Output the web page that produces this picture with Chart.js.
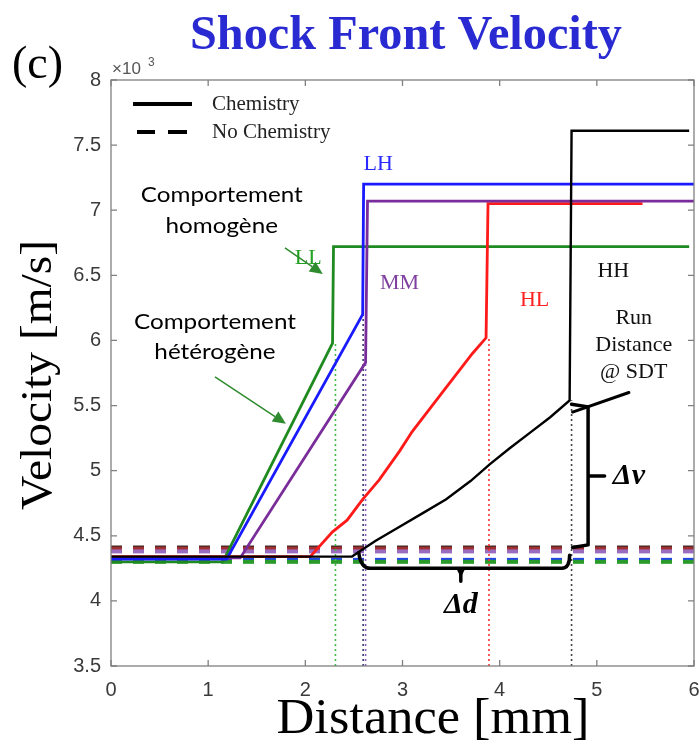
<!DOCTYPE html>
<html><head><meta charset="utf-8">
<script src="https://cdn.jsdelivr.net/npm/chart.js@4/dist/chart.umd.min.js"></script>
<style>html,body{margin:0;padding:0;background:#fff;overflow:hidden}canvas{display:block}</style>
</head><body>
<canvas id="c" width="699" height="744"></canvas>
<script>
// ---- axis ticks ----
const xTicks = [0, 1, 2, 3, 4, 5, 6];
const yTicks = [3.5, 4, 4.5, 5, 5.5, 6, 6.5, 7, 7.5, 8];

// ---- Chemistry (solid), velocity in 10^3 m/s vs distance in mm ----
const llX = [0, 1.15, 2.28, 2.29, 5.95];
const llY = [4.30, 4.30, 5.98, 6.72, 6.72];
const lhX = [0, 1.19, 2.59, 2.60, 6.0];
const lhY = [4.32, 4.32, 6.20, 7.20, 7.20];
const mmX = [0, 1.33, 2.62, 2.64, 6.0];
const mmY = [4.33, 4.33, 5.83, 7.07, 7.07];
const hlX = [0, 2.05, 2.28, 2.43, 2.59, 2.76, 2.97, 3.10, 3.45, 3.72, 3.86, 3.88, 5.47];
const hlY = [4.34, 4.34, 4.53, 4.62, 4.78, 4.93, 5.15, 5.30, 5.64, 5.90, 6.02, 7.05, 7.05];
const hhX = [0, 2.48, 2.58, 2.72, 2.97, 3.20, 3.45, 3.70, 3.90, 4.10, 4.31, 4.52, 4.72, 4.74, 5.95];
const hhY = [4.34, 4.34, 4.39, 4.46, 4.57, 4.67, 4.78, 4.92, 5.05, 5.17, 5.29, 5.41, 5.54, 7.61, 7.61];

// ---- No Chemistry (dashed, constant) ----
const noChemNames = ['LL', 'LH', 'MM', 'HL', 'HH'];
const noChemV = [4.30, 4.315, 4.38, 4.40, 4.41];
const noChemRange = [0, 6];

// ---- run distance markers (dotted verticals) ----
const sdtNames = ['LL', 'LH', 'MM', 'HL', 'HH'];
const sdtX = [2.31, 2.595, 2.62, 3.89, 4.74];
const sdtTop = [5.98, 6.20, 5.83, 6.02, 5.54];
const yMin = 3.5, yMax = 8;

const colSolid = { LL: '#1f8a1f', LH: '#1a1aff', MM: '#7a2d9a', HL: '#ff1a1a', HH: '#000000' };
const colDash = { LL: '#2a9a2a', LH: '#2046e8', MM: '#9a6cc0', HL: '#a03030', HH: 'rgba(50,15,15,0.9)' };
const colDot = { LL: '#44bb44', LH: '#3a3a70', MM: '#8a5cc0', HL: '#ff3030', HH: '#444444' };
const colLabel = { LL: '#22a022', LH: '#2a2aff', MM: '#8040a0', HL: '#ff2020', HH: '#111111' };

function pts(xs, ys) { return xs.map((x, i) => ({ x: x, y: ys[i] })); }

const datasets = [];
noChemNames.forEach((n, i) => {
  datasets.push({ label: n + ' no chem', data: pts(noChemRange, [noChemV[i], noChemV[i]]),
    borderColor: colDash[n], borderWidth: 4, borderDash: [11, 11], order: 10 + i });
});
sdtNames.forEach((n, i) => {
  datasets.push({ label: n + ' SDT', data: pts([sdtX[i], sdtX[i]], [yMin, sdtTop[i]]),
    borderColor: colDot[n], borderWidth: 1.6, borderDash: [2, 3], order: 5 });
});
const solid = { LL: [llX, llY], LH: [lhX, lhY], MM: [mmX, mmY], HL: [hlX, hlY], HH: [hhX, hhY] };
['LL', 'HL', 'MM', 'LH', 'HH'].forEach((n, i) => {
  datasets.push({ label: n, data: pts(solid[n][0], solid[n][1]), borderColor: colSolid[n],
    borderWidth: n === 'HH' ? 2.4 : 2.8, order: 4 - i });
});

// ---- annotations in data coordinates ----
const curveLabels = [
  { t: 'LL', x: 2.03, y: 6.63, c: colLabel.LL },
  { t: 'LH', x: 2.75, y: 7.35, c: colLabel.LH },
  { t: 'MM', x: 2.97, y: 6.44, c: colLabel.MM },
  { t: 'HL', x: 4.36, y: 6.31, c: colLabel.HL },
  { t: 'HH', x: 5.17, y: 6.53, c: colLabel.HH },
  { t: 'Run', x: 5.38, y: 6.17, c: '#111' },
  { t: 'Distance', x: 5.38, y: 5.96, c: '#111' },
  { t: '@ SDT', x: 5.38, y: 5.755, c: '#111' }
];
const noteLabels = [
  { t: 'Comportement', x: 1.14, y: 7.12 },
  { t: 'homogène', x: 1.14, y: 6.88 },
  { t: 'Comportement', x: 1.07, y: 6.14 },
  { t: 'hétérogène', x: 1.07, y: 5.91 }
];
const arrows = [
  { x1: 1.79, y1: 6.71, x2: 2.18, y2: 6.51 },
  { x1: 1.07, y1: 5.72, x2: 1.80, y2: 5.36 }
];

const annot = {
  id: 'annot',
  beforeDraw(chart) {
    const c = chart.ctx; c.save(); c.fillStyle = '#fff'; c.fillRect(0, 0, chart.width, chart.height); c.restore();
  },
  afterDatasetsDraw(chart) {
    const c = chart.ctx, xs = chart.scales.x, ys = chart.scales.y, a = chart.chartArea;
    const X = v => xs.getPixelForValue(v), Y = v => ys.getPixelForValue(v);
    c.save();
    // border and inward ticks
    c.strokeStyle = '#808080'; c.lineWidth = 1.3;
    c.strokeRect(a.left, a.top, a.right - a.left, a.bottom - a.top);
    c.beginPath();
    xTicks.forEach(v => { const p = X(v); c.moveTo(p, a.bottom); c.lineTo(p, a.bottom - 6); c.moveTo(p, a.top); c.lineTo(p, a.top + 6); });
    yTicks.forEach(v => { const p = Y(v); c.moveTo(a.left, p); c.lineTo(a.left + 6, p); c.moveTo(a.right, p); c.lineTo(a.right - 6, p); });
    c.stroke();

    // legend
    c.strokeStyle = '#000'; c.lineWidth = 4;
    c.beginPath(); c.moveTo(a.left + 22, a.top + 24); c.lineTo(a.left + 81, a.top + 24); c.stroke();
    c.beginPath(); c.moveTo(a.left + 26, a.top + 52); c.lineTo(a.left + 44, a.top + 52);
    c.moveTo(a.left + 57, a.top + 52); c.lineTo(a.left + 76, a.top + 52); c.stroke();
    c.fillStyle = '#222'; c.font = '21px "Liberation Serif"'; c.textBaseline = 'middle'; c.textAlign = 'left';
    c.fillText('Chemistry', a.left + 101, a.top + 24);
    c.fillText('No Chemistry', a.left + 101, a.top + 52);

    // curve labels
    c.textAlign = 'center';
    c.font = '22px "Liberation Serif"';
    curveLabels.forEach(l => { c.fillStyle = l.c; c.fillText(l.t, X(l.x), Y(l.y)); });

    // sans notes (fit width)
    c.font = '22px Lato';
    const sx = 162 / c.measureText('Comportement').width;
    c.fillStyle = '#000';
    noteLabels.forEach(l => {
      c.save(); c.translate(X(l.x), Y(l.y)); c.scale(sx, 1); c.fillText(l.t, 0, 0); c.restore();
    });

    // green arrows
    c.strokeStyle = '#2e8b2e'; c.fillStyle = '#2e8b2e'; c.lineWidth = 1.5;
    arrows.forEach(ar => {
      const x1 = X(ar.x1), y1 = Y(ar.y1), x2 = X(ar.x2), y2 = Y(ar.y2);
      const ang = Math.atan2(y2 - y1, x2 - x1), L = 13, W = 6;
      const bx = x2 - L * Math.cos(ang), by = y2 - L * Math.sin(ang);
      c.beginPath(); c.moveTo(x1, y1); c.lineTo(bx, by); c.stroke();
      c.beginPath(); c.moveTo(x2, y2);
      c.lineTo(bx + W * Math.sin(ang), by - W * Math.cos(ang));
      c.lineTo(bx - W * Math.sin(ang), by + W * Math.cos(ang));
      c.closePath(); c.fill();
    });

    // braces
    c.strokeStyle = '#000'; c.lineWidth = 3.5; c.lineJoin = 'round'; c.lineCap = 'round';
    c.beginPath();
    c.moveTo(X(2.55), Y(4.37));
    c.quadraticCurveTo(X(2.57), Y(4.25), X(2.67), Y(4.25));
    c.lineTo(X(4.64), Y(4.25));
    c.quadraticCurveTo(X(4.72), Y(4.25), X(4.72), Y(4.35));
    c.moveTo(X(3.60), Y(4.25)); c.lineTo(X(3.60), Y(4.15));
    c.stroke();
    c.beginPath(); c.moveTo(X(3.56), Y(4.24)); c.lineTo(X(3.64), Y(4.24)); c.lineTo(X(3.60), Y(4.18)); c.closePath(); c.fillStyle = '#000'; c.fill();
    c.beginPath();
    c.moveTo(X(4.74), Y(5.51)); c.lineTo(X(4.91), Y(5.49));
    c.lineTo(X(4.91), Y(4.43));
    c.lineTo(X(4.75), Y(4.41));
    c.moveTo(X(4.91), Y(4.96)); c.lineTo(X(5.08), Y(4.96));
    c.stroke();
    c.lineWidth = 3;
    c.beginPath(); c.moveTo(X(4.75), Y(5.45)); c.lineTo(X(5.33), Y(5.60)); c.stroke();
    c.font = 'bold italic 30px "Liberation Serif"'; c.fillStyle = '#000'; c.textAlign = 'center';
    c.fillText('\u0394d', X(3.60), Y(3.97));
    c.fillText('\u0394v', X(5.33), Y(4.96));
    c.restore();
  },
  afterDraw(chart) {
    const c = chart.ctx; c.save();
    c.textBaseline = 'alphabetic'; c.textAlign = 'center';
    // title
    c.font = 'bold 48px "Liberation Serif"';
    let w = c.measureText('Shock Front Velocity').width;
    c.fillStyle = '#2a2ad2';
    c.save(); c.translate(406, 49); c.scale(432 / w, 1); c.fillText('Shock Front Velocity', 0, 0); c.restore();
    // (c)
    c.fillStyle = '#000'; c.textAlign = 'left';
    c.font = '46px "Liberation Serif"'; c.fillText('(c)', 12, 78);
    // x10^3
    c.fillStyle = '#555'; c.font = '17px "Liberation Sans"'; c.fillText('\u00d710', 112, 74);
    c.font = '12px "Liberation Sans"'; c.fillText('3', 148, 66);
    // axis titles
    c.fillStyle = '#000'; c.textAlign = 'center'; c.textBaseline = 'alphabetic';
    c.font = '50px "Liberation Serif"';
    w = c.measureText('Distance [mm]').width;
    c.save(); c.translate(433, 733); c.scale(313 / w, 1); c.fillText('Distance [mm]', 0, 0); c.restore();
    c.font = '44px "Liberation Serif"';
    w = c.measureText('Velocity [m/s]').width;
    c.save(); c.translate(51, 375); c.rotate(-Math.PI / 2); c.scale(270 / w, 1); c.fillText('Velocity [m/s]', 0, 0); c.restore();
    c.restore();
  }
};

function zeroPad(s) { s.paddingLeft = 0; s.paddingRight = 0; s.paddingTop = 0; s.paddingBottom = 0; }

new Chart(document.getElementById('c'), {
  type: 'line',
  data: { datasets: datasets },
  options: {
    responsive: false, animation: false, devicePixelRatio: 1,
    layout: { padding: { left: 0, right: 5, top: 80, bottom: 0 } },
    elements: { point: { radius: 0 }, line: { tension: 0, fill: false } },
    plugins: { legend: { display: false }, tooltip: { enabled: false }, title: { display: false } },
    scales: {
      x: {
        type: 'linear', min: 0, max: 6,
        afterBuildTicks: s => { s.ticks = xTicks.map(v => ({ value: v })); },
        afterFit: s => { s.height = 78; zeroPad(s); },
        grid: { display: false }, border: { display: false },
        ticks: { color: '#3a3a3a', font: { family: 'Liberation Sans', size: 20 }, padding: 4, maxRotation: 0, autoSkip: false,
          callback: v => String(v) }
      },
      y: {
        type: 'linear', min: yMin, max: yMax,
        afterBuildTicks: s => { s.ticks = yTicks.map(v => ({ value: v })); },
        afterFit: s => { s.width = 111; zeroPad(s); },
        grid: { display: false }, border: { display: false },
        ticks: { color: '#3a3a3a', font: { family: 'Liberation Sans', size: 20 }, padding: 2, autoSkip: false,
          callback: v => String(v) }
      }
    }
  },
  plugins: [annot]
});
</script>
</body></html>
